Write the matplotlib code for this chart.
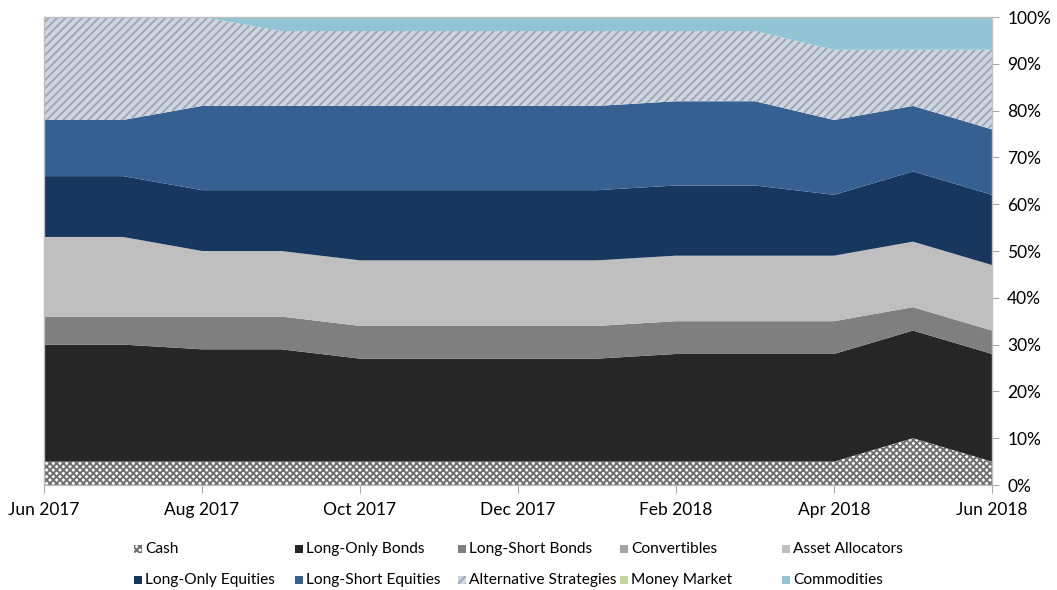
#!/usr/bin/env python3
"""Stacked area: allocation by strategy, Jun 2017 - Jun 2018"""
import numpy as np
import matplotlib
matplotlib.use('Agg')
import matplotlib.pyplot as plt
from matplotlib.patches import Rectangle
from matplotlib.ticker import PercentFormatter

# ---------- data ----------
months = ['Jun 2017', 'Jul 2017', 'Aug 2017', 'Sep 2017', 'Oct 2017', 'Nov 2017',
          'Dec 2017', 'Jan 2018', 'Feb 2018', 'Mar 2018', 'Apr 2018', 'May 2018', 'Jun 2018']

cash            = [5, 5, 5, 5, 5, 5, 5, 5, 5, 5, 5, 10, 5]
long_only_bonds = [25, 25, 24, 24, 22, 22, 22, 22, 23, 23, 23, 23, 23]
long_short_bonds = [6, 6, 7, 7, 7, 7, 7, 7, 7, 7, 7, 5, 5]
convertibles    = [0, 0, 0, 0, 0, 0, 0, 0, 0, 0, 0, 0, 0]
asset_allocators = [17, 17, 14, 14, 14, 14, 14, 14, 14, 14, 14, 14, 14]
long_only_eq    = [13, 13, 13, 13, 15, 15, 15, 15, 15, 15, 13, 15, 15]
long_short_eq   = [12, 12, 18, 18, 18, 18, 18, 18, 18, 18, 16, 14, 14]
alternative     = [22, 22, 19, 16, 16, 16, 16, 16, 15, 15, 15, 12, 17]
money_market    = [0, 0, 0, 0, 0, 0, 0, 0, 0, 0, 0, 0, 0]
commodities     = [0, 0, 0, 3, 3, 3, 3, 3, 3, 3, 7, 7, 7]

series_names = ['Cash', 'Long-Only Bonds', 'Long-Short Bonds', 'Convertibles', 'Asset Allocators',
                'Long-Only Equities', 'Long-Short Equities', 'Alternative Strategies',
                'Money Market', 'Commodities']
series = [cash, long_only_bonds, long_short_bonds, convertibles, asset_allocators,
          long_only_eq, long_short_eq, alternative, money_market, commodities]

# ---------- style ----------
FACE = ['white', '#262626', '#7f7f7f', '#a5a5a5', '#bfbfbf',
        '#17375e', '#366092', '#cbd7e8', '#c3d69b', '#92c4d5']
HATCH = ['xxxxx', None, None, None, None, None, None, '////', None, None]
HATCH_COL = ['#6e6e6e', None, None, None, None, None, None, '#a6a6a6', None, None]

plt.rcParams['font.family'] = ['Lato', 'DejaVu Sans']
plt.rcParams['hatch.linewidth'] = 1.4

fig = plt.figure(figsize=(10.57, 5.90), dpi=100)
ax = fig.add_axes([44 / 1057, 1 - 485 / 590, (992 - 44) / 1057, (485 - 17) / 590])

x = np.arange(len(months))
base = np.zeros(len(months))
for name, vals, fc, h, hc in zip(series_names, series, FACE, HATCH, HATCH_COL):
    top = base + np.array(vals, dtype=float) / 100
    if h:
        ax.fill_between(x, base, top, facecolor=fc, edgecolor=hc, hatch=h, linewidth=0)
    else:
        ax.fill_between(x, base, top, facecolor=fc, linewidth=0)
    base = top

ax.set_xlim(0, len(months) - 1)
ax.set_ylim(0, 1)
ax.set_xticks(x[::2])
ax.set_xticklabels(months[::2], fontsize=12.5)
ax.yaxis.tick_right()
ax.set_yticks(np.linspace(0, 1, 11))
ax.yaxis.set_major_formatter(PercentFormatter(1.0, decimals=0))
ax.tick_params(axis='y', labelsize=12.5, length=5, color='#a6a6a6', pad=6)
ax.tick_params(axis='x', length=6, color='#a6a6a6', pad=6)
for s in ['left', 'right', 'bottom', 'top']:
    ax.spines[s].set_color('#bfbfbf')
    ax.spines[s].set_linewidth(1.0)

# ---------- legend (two rows of five, Excel style) ----------
col_x = [134, 295, 458, 620, 782]
row_y = [549, 580]
for i, (name, fc, h, hc) in enumerate(zip(series_names, FACE, HATCH, HATCH_COL)):
    r, c = divmod(i, 5)
    px, py = col_x[c], row_y[r]
    rect = Rectangle((px / 1057, 1 - (py + 4) / 590), 8 / 1057, 8 / 590,
                     transform=fig.transFigure, facecolor=fc,
                     edgecolor=hc if h else 'none', hatch=h, linewidth=0)
    fig.patches.append(rect)
    fig.text((px + 11) / 1057, 1 - py / 590, name, fontsize=11.2, va='center', ha='left')

fig.savefig('out.png', dpi=100, facecolor='white')
